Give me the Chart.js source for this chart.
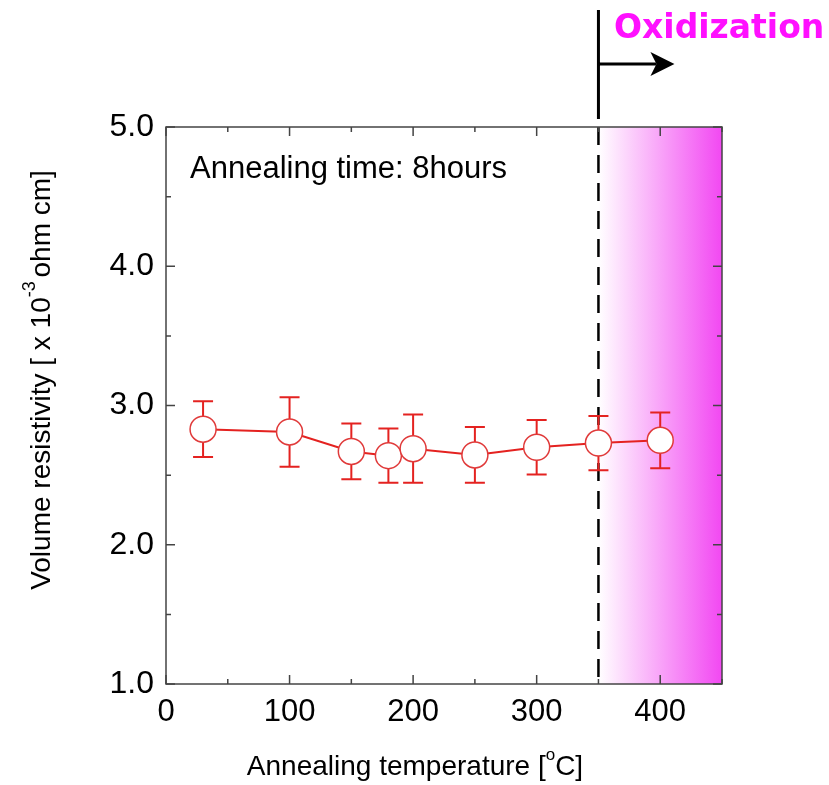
<!DOCTYPE html>
<html>
<head>
<meta charset="utf-8">
<script src="https://cdn.jsdelivr.net/npm/chart.js@4.4.1/dist/chart.umd.min.js"></script>
<style>
  html, body { margin: 0; padding: 0; background: #fff; }
</style>
</head>
<body>
<canvas id="chart" width="829" height="785"></canvas>
<script>
const temps = [30, 100, 150, 180, 200, 250, 300, 350, 400];
const resistivity = [2.83, 2.81, 2.67, 2.64, 2.69, 2.645, 2.70, 2.73, 2.75];
const errors = [0.20, 0.25, 0.20, 0.195, 0.245, 0.20, 0.195, 0.195, 0.20];
const xTicks = [0, 100, 200, 300, 400];
const yTicks = [1, 2, 3, 4, 5];
const oxidStart = 350;
const noteText = 'Annealing time: 8hours';
const oxidText = 'Oxidization';

const red = '#e42220';
const magenta = '#ff10ff';
const FONT = '"Liberation Sans", Arial, sans-serif';

// draws everything around the plot: band, dashed line, error bars, frame, ticks, labels
const decor = {
  id: 'decor',
  beforeDatasetsDraw(chart) {
    const { ctx, chartArea: a, scales: { x, y } } = chart;
    const xs = x.getPixelForValue(oxidStart);

    // oxidization band
    const g = ctx.createLinearGradient(xs, 0, a.right, 0);
    g.addColorStop(0, 'rgba(255,255,255,1)');
    g.addColorStop(1, 'rgb(242,72,242)');
    ctx.save();
    ctx.fillStyle = g;
    ctx.fillRect(xs, a.top, a.right - xs, a.bottom - a.top);

    // dashed threshold line
    ctx.strokeStyle = '#000';
    ctx.lineWidth = 2.5;
    ctx.setLineDash([18, 10]);
    ctx.beginPath();
    ctx.moveTo(xs, a.top);
    ctx.lineTo(xs, a.bottom);
    ctx.stroke();
    ctx.setLineDash([]);

    // error bars
    ctx.strokeStyle = red;
    ctx.lineWidth = 2;
    temps.forEach((t, i) => {
      const px = x.getPixelForValue(t);
      const hi = y.getPixelForValue(resistivity[i] + errors[i]);
      const lo = y.getPixelForValue(resistivity[i] - errors[i]);
      ctx.beginPath();
      ctx.moveTo(px, hi); ctx.lineTo(px, lo);
      ctx.moveTo(px - 10, hi); ctx.lineTo(px + 10, hi);
      ctx.moveTo(px - 10, lo); ctx.lineTo(px + 10, lo);
      ctx.stroke();
    });
    ctx.restore();
  },
  afterDraw(chart) {
    const { ctx, chartArea: a, scales: { x, y } } = chart;
    const xs = x.getPixelForValue(oxidStart);
    ctx.save();

    // frame
    ctx.strokeStyle = '#444';
    ctx.lineWidth = 1.5;
    ctx.strokeRect(a.left, a.top, a.right - a.left, a.bottom - a.top);

    // inward ticks on all four sides
    ctx.beginPath();
    for (let v = 0; v <= 450; v += 50) {
      const px = x.getPixelForValue(v);
      const len = v % 100 === 0 ? 9 : 5;
      ctx.moveTo(px, a.bottom); ctx.lineTo(px, a.bottom - len);
      ctx.moveTo(px, a.top); ctx.lineTo(px, a.top + len);
    }
    for (let v = 1; v <= 5.001; v += 0.5) {
      const py = y.getPixelForValue(v);
      const len = Math.abs(v - Math.round(v)) < 0.01 ? 9 : 5;
      ctx.moveTo(a.left, py); ctx.lineTo(a.left + len, py);
      ctx.moveTo(a.right, py); ctx.lineTo(a.right - len, py);
    }
    ctx.stroke();

    // solid marker above plot + arrow
    ctx.strokeStyle = '#000';
    ctx.fillStyle = '#000';
    ctx.lineWidth = 3;
    ctx.beginPath();
    ctx.moveTo(xs, 10); ctx.lineTo(xs, a.top - 8);
    ctx.moveTo(xs, 64); ctx.lineTo(xs + 58, 64);
    ctx.stroke();
    ctx.beginPath();
    ctx.moveTo(xs + 76, 64);
    ctx.lineTo(xs + 52, 52);
    ctx.lineTo(xs + 58, 64);
    ctx.lineTo(xs + 52, 76);
    ctx.closePath();
    ctx.fill();

    ctx.fillStyle = magenta;
    ctx.font = 'bold 33px "DejaVu Sans", Verdana, sans-serif';
    ctx.textBaseline = 'alphabetic';
    ctx.textAlign = 'left';
    ctx.fillText(oxidText, 614, 38);

    ctx.fillStyle = '#000';
    ctx.font = '31px ' + FONT;
    ctx.fillText(noteText, 190, 178);

    // x title with superscript o
    const xa = 'Annealing temperature [';
    const xb = 'C]';
    ctx.font = '28px ' + FONT;
    const wa = ctx.measureText(xa).width;
    ctx.font = '17px ' + FONT;
    const wo = ctx.measureText('o').width;
    ctx.font = '28px ' + FONT;
    const wb = ctx.measureText(xb).width;
    let cx = 415 - (wa + wo + wb) / 2;
    ctx.fillText(xa, cx, 775); cx += wa;
    ctx.font = '17px ' + FONT;
    ctx.fillText('o', cx, 760); cx += wo;
    ctx.font = '28px ' + FONT;
    ctx.fillText(xb, cx, 775);

    // y title with superscript -3
    ctx.translate(50, 378);
    ctx.rotate(-Math.PI / 2);
    const ya = 'Volume resistivity [ x 10';
    const ys = '-3';
    const yb = ' ohm cm]';
    ctx.font = '28px ' + FONT;
    const w1 = ctx.measureText(ya).width;
    ctx.font = '18px ' + FONT;
    const w2 = ctx.measureText(ys).width;
    ctx.font = '28px ' + FONT;
    const w3 = ctx.measureText(yb).width;
    let cy = -(w1 + w2 + w3) / 2;
    ctx.fillText(ya, cy, 0); cy += w1;
    ctx.font = '18px ' + FONT;
    ctx.fillText(ys, cy, -15); cy += w2;
    ctx.font = '28px ' + FONT;
    ctx.fillText(yb, cy - 4, 0);
    ctx.restore();
  }
};

new Chart(document.getElementById('chart').getContext('2d'), {
  type: 'line',
  data: {
    datasets: [{
      data: temps.map((t, i) => ({ x: t, y: resistivity[i] })),
      borderColor: red,
      borderWidth: 2,
      pointRadius: 13,
      pointHoverRadius: 13,
      pointBackgroundColor: '#fff',
      pointBorderColor: '#e03a3a',
      pointBorderWidth: 1.5,
      tension: 0
    }]
  },
  options: {
    responsive: false,
    animation: false,
    events: [],
    layout: { padding: { left: 0, right: 107, top: 127, bottom: 0 } },
    plugins: { legend: { display: false }, tooltip: { enabled: false } },
    scales: {
      x: {
        type: 'linear',
        min: 0, max: 450,
        grid: { display: false, drawTicks: false },
        border: { display: false },
        afterBuildTicks: s => { s.ticks = xTicks.map(v => ({ value: v })); },
        afterFit: s => { s.height = 101; },
        ticks: { color: '#000', padding: 10, maxRotation: 0, font: { family: FONT, size: 31 } }
      },
      y: {
        min: 1, max: 5,
        grid: { display: false, drawTicks: false },
        border: { display: false },
        afterBuildTicks: s => { s.ticks = yTicks.map(v => ({ value: v })); },
        afterFit: s => { s.width = 166; },
        ticks: {
          color: '#000', padding: 12,
          font: { family: FONT, size: 32 },
          callback: v => v.toFixed(1)
        }
      }
    }
  },
  plugins: [decor]
});
</script>
</body>
</html>
